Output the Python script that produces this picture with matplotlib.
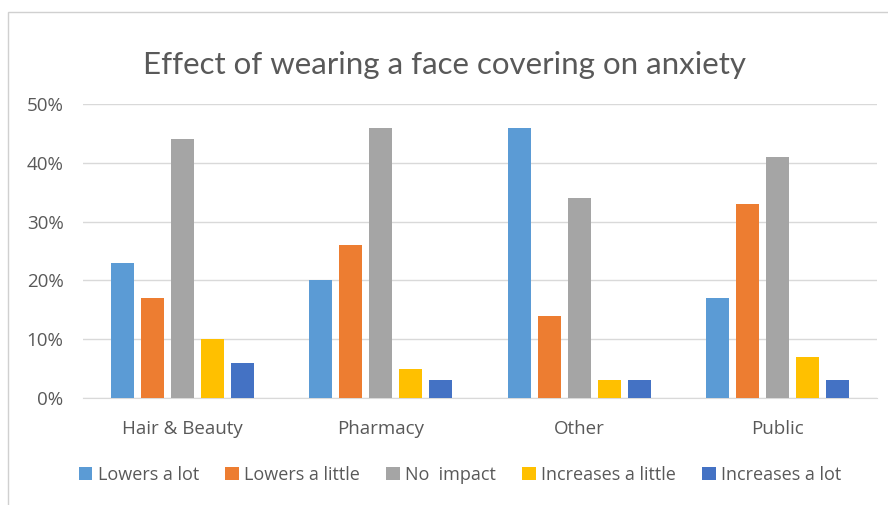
import matplotlib
matplotlib.use("Agg")
import matplotlib.pyplot as plt
from matplotlib.patches import Patch, Rectangle
from matplotlib.ticker import PercentFormatter
import numpy as np

plt.rcParams['font.family'] = ['Open Sans', 'DejaVu Sans']

categories = ["Hair & Beauty", "Pharmacy", "Other", "Public"]
series_names = ["Lowers a lot", "Lowers a little", "No  impact",
                "Increases a little", "Increases a lot"]
lowers_lot = [23, 20, 46, 17]
lowers_little = [17, 26, 14, 33]
no_impact = [44, 46, 34, 41]
increases_little = [10, 5, 3, 7]
increases_lot = [6, 3, 3, 3]
series_values = [lowers_lot, lowers_little, no_impact, increases_little, increases_lot]
colors = ["#5B9BD5", "#ED7D31", "#A5A5A5", "#FFC000", "#4472C4"]

text_grey = "#595959"
grid_grey = "#D9D9D9"

fig = plt.figure(figsize=(8.88, 5.05), dpi=100)

# chart area outline
fig.patches.append(Rectangle((8 / 888, -0.1), 1.2, (505 - 12) / 505 + 0.1,
                             transform=fig.transFigure, fill=False,
                             edgecolor="#D0D0D0", linewidth=1.0))

ax = fig.add_axes([83 / 888, (505 - 398) / 505, (877 - 83) / 888, (398 - 104) / 505])

x = np.arange(len(categories))
step = 0.151
width = 0.117
for i, (name, vals, c) in enumerate(zip(series_names, series_values, colors)):
    ax.bar(x + (i - 2) * step, np.array(vals) / 100, width, color=c, label=name, zorder=3)

ax.set_xlim(-0.5, len(categories) - 0.5)
ax.set_ylim(0, 0.5)
ax.set_yticks(np.arange(0, 0.51, 0.1))
ax.yaxis.set_major_formatter(PercentFormatter(1.0, decimals=0))
ax.grid(axis="y", color=grid_grey, linewidth=1.0, zorder=0)
for s in ["top", "right", "left"]:
    ax.spines[s].set_visible(False)
ax.spines["bottom"].set_color(grid_grey)
ax.set_xticks(x)
ax.set_xticklabels(categories)
ax.tick_params(axis="both", length=0, colors=text_grey, labelsize=13.5)
ax.tick_params(axis="y", pad=14)
ax.tick_params(axis="x", pad=16)

fig.text(0.5, (505 - 65) / 505, "Effect of wearing a face covering on anxiety",
         ha="center", va="center", fontsize=22.5, color=text_grey,
         family=['Lato', 'DejaVu Sans'])

handles = [Patch(facecolor=c, label=n) for n, c in zip(series_names, colors)]
fig.legend(handles=handles, loc="center", bbox_to_anchor=(0.518, (505 - 475) / 505),
           ncol=5, frameon=False, fontsize=13, handlelength=0.75, handleheight=0.75,
           handletextpad=0.3, columnspacing=1.45, labelcolor=text_grey)

fig.savefig("out.png", dpi=100, facecolor="white")
